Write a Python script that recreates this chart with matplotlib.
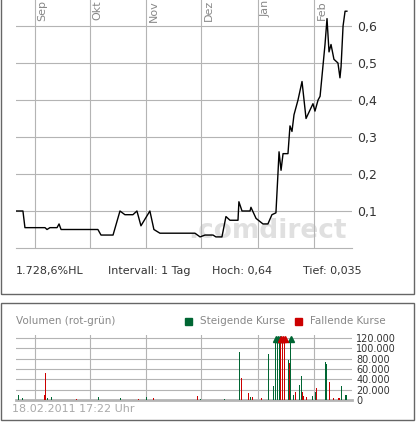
import matplotlib
matplotlib.use("Agg")
import matplotlib.pyplot as plt
from matplotlib.patches import Rectangle

W, H = 417, 425
# day offsets from 1 Sep 2010
month_labels = ["Sep", "Okt", "Nov", "Dez", "Jan", "Feb"]
month_days = [0, 30, 61, 91, 122, 153]

price_days = [-10.4, -6.6, -5.5, 5.5, 6.6, 8.2, 12.1, 13.2, 14.3, 19.2, 34.5, 36.2, 42.8, 46.6, 49.3,
              53.7, 55.9, 58.1, 63.0, 65.2, 68.5, 87.7, 90.5, 93.2, 97.6, 99.2, 102.5, 103.1, 104.7,
              106.9, 111.3, 111.8, 113.5, 117.9, 118.4, 121.2, 125.0, 127.7, 129.9, 132.1, 133.2,
              133.8, 134.9, 136.0, 138.7, 139.8, 140.9, 142.0, 144.2, 146.4, 148.6, 152.4, 153.5,
              155.2, 156.3, 159.0, 160.1, 161.2, 162.3, 163.9, 166.1, 167.2, 167.8, 168.9, 170.0, 171.0]
price_vals = [0.1, 0.1, 0.055, 0.055, 0.05, 0.055, 0.055, 0.065, 0.05, 0.05, 0.05, 0.035, 0.035, 0.1,
              0.09, 0.09, 0.1, 0.06, 0.1, 0.05, 0.04, 0.04, 0.03, 0.035, 0.035, 0.03, 0.03, 0.045,
              0.085, 0.075, 0.075, 0.125, 0.1, 0.1, 0.11, 0.08, 0.065, 0.065, 0.09, 0.095, 0.2,
              0.26, 0.21, 0.255, 0.255, 0.33, 0.315, 0.36, 0.4, 0.45, 0.35, 0.39, 0.37, 0.4, 0.41,
              0.55, 0.62, 0.53, 0.55, 0.51, 0.5, 0.46, 0.49, 0.6, 0.64, 0.64]

up_days = [-9, -7, 7, 9, 35, 47, 61, 91, 104, 112, 118, 128, 131, 132, 133.2, 134.2, 139, 140.2, 142,
           145, 146, 152, 154, 159, 160, 168, 170, 171]
up_vols = [10000, 3000, 3000, 5000, 5000, 3000, 6000, 2000, 1000, 92000, 6000, 90000, 28000, 150000,
           150000, 150000, 78000, 150000, 10000, 30000, 46000, 8000, 15000, 74000, 70000, 27000, 10000, 10000]
down_days = [5, 6, 23, 57, 65, 89, 113, 117, 119, 124, 134.8, 135.8, 137, 139.7, 142.8, 146.8, 147.4,
             148.6, 154.6, 161.4, 163.6, 166.2, 167.2]
down_vols = [10000, 52000, 1000, 2000, 3000, 8000, 42000, 14000, 5000, 3000, 150000, 150000, 150000,
             72000, 16000, 16000, 8000, 5000, 23000, 35000, 3000, 3000, 3000]

GRID = "#b4b4b4"
TXT = "#333333"
GREEN = "#006633"
RED = "#cc0000"
XMIN, XMAX = -10.4, 173.8

fig = plt.figure(figsize=(W/100, H/100), dpi=100)
fig.patch.set_facecolor("white")

def fr(x0, y0, x1, y1):
    return [x0/W, 1-y1/H, (x1-x0)/W, (y1-y0)/H]

for (x0, y0, x1, y1) in [(1, -5, 414, 294), (1, 303, 414, 420)]:
    fig.patches.append(Rectangle((x0/W, 1-y1/H), (x1-x0)/W, (y1-y0)/H, transform=fig.transFigure,
                                 fill=False, ec="#666666", lw=1))

ax = fig.add_axes(fr(16, 0, 352, 248))
ax.set_xlim(XMIN, XMAX)
ax.set_ylim(0, 0.6 + 26/370)
for d in month_days:
    ax.axvline(d, color=GRID, lw=0.8)
for v in [0.1, 0.2, 0.3, 0.4, 0.5, 0.6]:
    ax.axhline(v, color=GRID, lw=0.8)
ax.text(0.985, 0.015, ".comdirect", transform=ax.transAxes, ha="right", va="bottom",
        fontsize=19, color="#e0e0e0", fontweight="bold", zorder=1)
ax.plot(price_days, price_vals, color="black", lw=1, zorder=3)
for lab, d in zip(month_labels, month_days):
    ax.text(d + 1.5, 0.6 + 26/370, lab, rotation=90, ha="left", va="top", fontsize=8, color="#888888")
ax.set_xticks([])
ax.yaxis.tick_right()
ax.set_yticks([0.1, 0.2, 0.3, 0.4, 0.5, 0.6])
ax.set_yticklabels(["0,1", "0,2", "0,3", "0,4", "0,5", "0,6"], fontsize=9, color=TXT)
ax.tick_params(axis="y", length=0, pad=4)
for s in ["top", "left", "right"]:
    ax.spines[s].set_visible(False)
ax.spines["bottom"].set_color(GRID)

for x, t in [(16, "1.728,6%HL"), (108, "Intervall: 1 Tag"), (212, "Hoch: 0,64"), (303, "Tief: 0,035")]:
    fig.text(x/W, 1-271/H, t, fontsize=8, color=TXT, va="center")

av = fig.add_axes(fr(16, 335, 352, 400))
av.set_xlim(XMIN, XMAX)
top = 120000 * 65/62
av.set_ylim(0, top)
for d in month_days:
    av.axvline(d, color=GRID, lw=0.8)
for v in range(20000, 140000, 20000):
    av.axhline(v, color=GRID, lw=0.8)
clip = lambda vs: [min(v, 120000) for v in vs]
av.bar(up_days, clip(up_vols), width=0.55, color=GREEN, zorder=3)
av.bar(down_days, clip(down_vols), width=0.55, color=RED, zorder=3)
for d, v in zip(up_days, up_vols):
    if v > 120000:
        av.plot(d, 118000, marker="^", color=GREEN, ms=4, zorder=4)
for d, v in zip(down_days, down_vols):
    if v > 120000:
        av.plot(d, 118000, marker="^", color=RED, ms=4, zorder=4)
av.set_xticks([])
av.yaxis.tick_right()
av.set_yticks(range(0, 140000, 20000))
av.set_yticklabels(["0", "20.000", "40.000", "60.000", "80.000", "100.000", "120.000"], fontsize=7, color=TXT)
av.tick_params(axis="y", length=0, pad=3)
for s in ["top", "left", "right"]:
    av.spines[s].set_visible(False)
av.spines["bottom"].set_color(GRID)
av.spines["bottom"].set_linewidth(2)

fig.text(16/W, 1-321/H, "Volumen (rot-grün)", fontsize=7.5, color="#888888", va="center")
fig.patches.append(Rectangle((185/W, 1-325/H), 7/W, 7/H, transform=fig.transFigure, color=GREEN))
fig.text(200/W, 1-321/H, "Steigende Kurse", fontsize=7.5, color="#888888", va="center")
fig.patches.append(Rectangle((295/W, 1-325/H), 7/W, 7/H, transform=fig.transFigure, color=RED))
fig.text(310/W, 1-321/H, "Fallende Kurse", fontsize=7.5, color="#888888", va="center")
fig.text(12/W, 1-409/H, "18.02.2011 17:22 Uhr", fontsize=8, color="#aaaaaa", va="center")

fig.savefig("out.png", dpi=100, facecolor="white")
